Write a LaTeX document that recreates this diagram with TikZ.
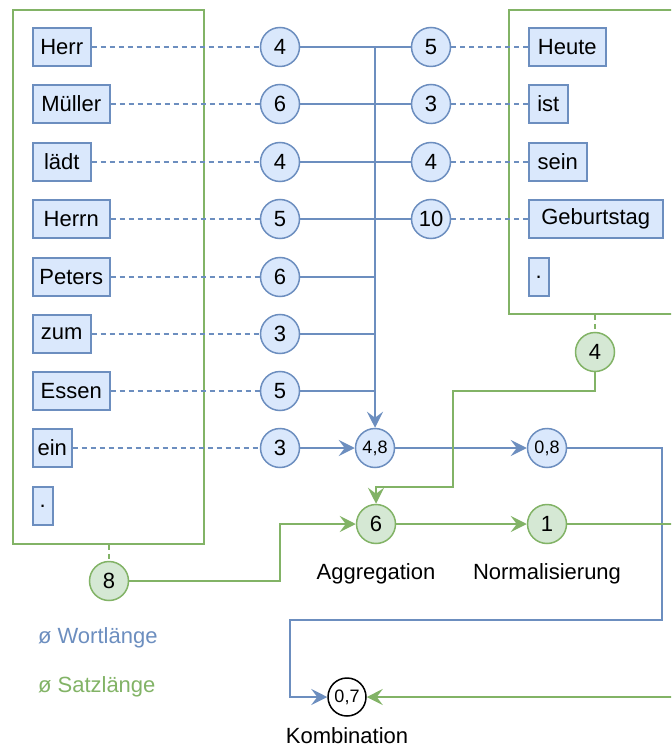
\documentclass[tikz,border=0pt]{standalone}
\usepackage{fontspec}
\setmainfont{Liberation Sans}
\usetikzlibrary{arrows.meta, positioning}
\definecolor{B}{RGB}{108,142,191}
\definecolor{Bf}{RGB}{218,232,252}
\definecolor{G}{RGB}{130,179,102}
\definecolor{Gf}{RGB}{213,232,212}
\tikzstyle{word} = [
rectangle,
draw=B,
fill=Bf,
line width=0.75pt,
minimum height=19pt,
inner sep=0pt,
anchor=west
]
\tikzstyle{wlen} = [circle, draw=B, fill=Bf, line width=0.75pt,
minimum size=19.5pt, inner sep=0pt]
\tikzstyle{slen} = [circle, draw=G, fill=Gf, line width=0.75pt,
minimum size=19.5pt, inner sep=0pt]
\tikzstyle{res} = [circle, draw=black, fill=white, line width=0.75pt,
minimum size=19pt, inner sep=0pt]
\tikzstyle{sentence} = [rectangle, draw=G, line width=0.75pt]
\tikzstyle{small} = [font=\fontsize{9}{10}\selectfont]
\tikzstyle{blink} = [draw=B, line width=0.75pt]
\tikzstyle{glink} = [draw=G, line width=0.75pt]
\tikzstyle{dotted link} = [dash pattern=on 2.5pt off 2pt]
\tikzstyle{arrow} = [-{Stealth[length=8pt,width=8pt,inset=3pt]}]

\begin{document}
\begin{tikzpicture}[x=0.5pt, y=-0.5pt, font=\fontsize{11}{13}\selectfont]
      \useasboundingbox (0,0) rectangle (671,753);
      \clip (0,0) rectangle (671,753);
      \node (satz1) [sentence, minimum width=95.5pt, minimum height=267pt] at (108.5,277) {};
      \node (satz2) [sentence, minimum width=95.5pt, minimum height=152pt] at (604.5,162) {};
      % first sentence
      \node (w1) [word, minimum width=29pt] at (32,47) {Herr};
      \node (w2) [word, minimum width=38.5pt] at (32,104) {Müller};
      \node (w3) [word, minimum width=29pt] at (32,162) {lädt};
      \node (w4) [word, minimum width=38.5pt] at (32,219) {Herrn};
      \node (w5) [word, minimum width=38.5pt] at (32,277) {Peters};
      \node (w6) [word, minimum width=29pt] at (32,334) {zum};
      \node (w7) [word, minimum width=38.5pt] at (32,391) {Essen};
      \node (w8) [word, minimum width=19.5pt] at (32,448) {ein};
      \node (w9) [word, minimum width=10pt] at (32,506) {.};
      \node (n1) [wlen] at (280,47) {4};
      \node (n2) [wlen] at (280,104) {6};
      \node (n3) [wlen] at (280,162) {4};
      \node (n4) [wlen] at (280,219) {5};
      \node (n5) [wlen] at (280,277) {6};
      \node (n6) [wlen] at (280,334) {3};
      \node (n7) [wlen] at (280,391) {5};
      \node (n8) [wlen] at (280,448) {3};
      % second sentence
      \node (v1) [word, minimum width=38.5pt] at (528,47) {Heute};
      \node (v2) [word, minimum width=19.5pt] at (528,104) {ist};
      \node (v3) [word, minimum width=29pt] at (528,162) {sein};
      \node (v4) [word, minimum width=67pt] at (528,219) {Geburtstag};
      \node (v5) [word, minimum width=10pt] at (528,277) {.};
      \node (m1) [wlen] at (431,47) {5};
      \node (m2) [wlen] at (431,104) {3};
      \node (m3) [wlen] at (431,162) {4};
      \node (m4) [wlen] at (431,219) {10};
      % results
      \node (wsum) [wlen, small] at (375,448) {4,8};
      \node (wnorm) [wlen, small] at (547,448) {0,8};
      \node (s1) [slen] at (109,581) {8};
      \node (s2) [slen] at (595,352) {4};
      \node (sagg) [slen] at (376,524) {6};
      \node (snorm) [slen] at (547,524) {1};
      \node (comb) [res, small] at (347,697) {0,7};
      \node (aggtext) [below=6pt of sagg] {Aggregation};
      \node (normtext) [below=6pt of snorm] {Normalisierung};
      \node (combtext) [below=4pt of comb, inner ysep=1pt] {Kombination};
      \node (leg1) [anchor=west, text=B] at (31,638) {ø Wortlänge};
      \node (leg2) [anchor=west, text=G] at (31,687) {ø Satzlänge};
      \draw [blink, dotted link] (w1) -- (n1);
      \draw [blink, dotted link] (w2) -- (n2);
      \draw [blink, dotted link] (w3) -- (n3);
      \draw [blink, dotted link] (w4) -- (n4);
      \draw [blink, dotted link] (w5) -- (n5);
      \draw [blink, dotted link] (w6) -- (n6);
      \draw [blink, dotted link] (w7) -- (n7);
      \draw [blink, dotted link] (w8) -- (n8);
      \draw [blink, dotted link] (m1) -- (v1);
      \draw [blink, dotted link] (m2) -- (v2);
      \draw [blink, dotted link] (m3) -- (v3);
      \draw [blink, dotted link] (m4) -- (v4);
      \draw [blink] (n1) -- (m1);
      \draw [blink] (n2) -- (m2);
      \draw [blink] (n3) -- (m3);
      \draw [blink] (n4) -- (m4);
      \draw [blink] (n5) -- (n5 -| wsum);
      \draw [blink] (n6) -- (n6 -| wsum);
      \draw [blink] (n7) -- (n7 -| wsum);
      \draw [blink, arrow] (n1 -| wsum) -- (wsum);
      \draw [blink, arrow] (n8) -- (wsum);
      \draw [blink, arrow] (wsum) -- (wnorm);
      \draw [blink, arrow] (wnorm) -| (662,620) -| (290,697) -- (comb);
      \draw [glink, dotted link] (satz1.south -| s1) -- (s1);
      \draw [glink, dotted link] (satz2.south -| s2) -- (s2);
      \draw [glink, arrow] (s1) -| (280,524) -- (sagg);
      \draw [glink, arrow] (s2) |- (453,391) |- (376,487) -- (sagg);
      \draw [glink, arrow] (sagg) -- (snorm);
      \draw [glink, arrow] (snorm) -- (700,524) |- (comb);
\end{tikzpicture}
\end{document}
